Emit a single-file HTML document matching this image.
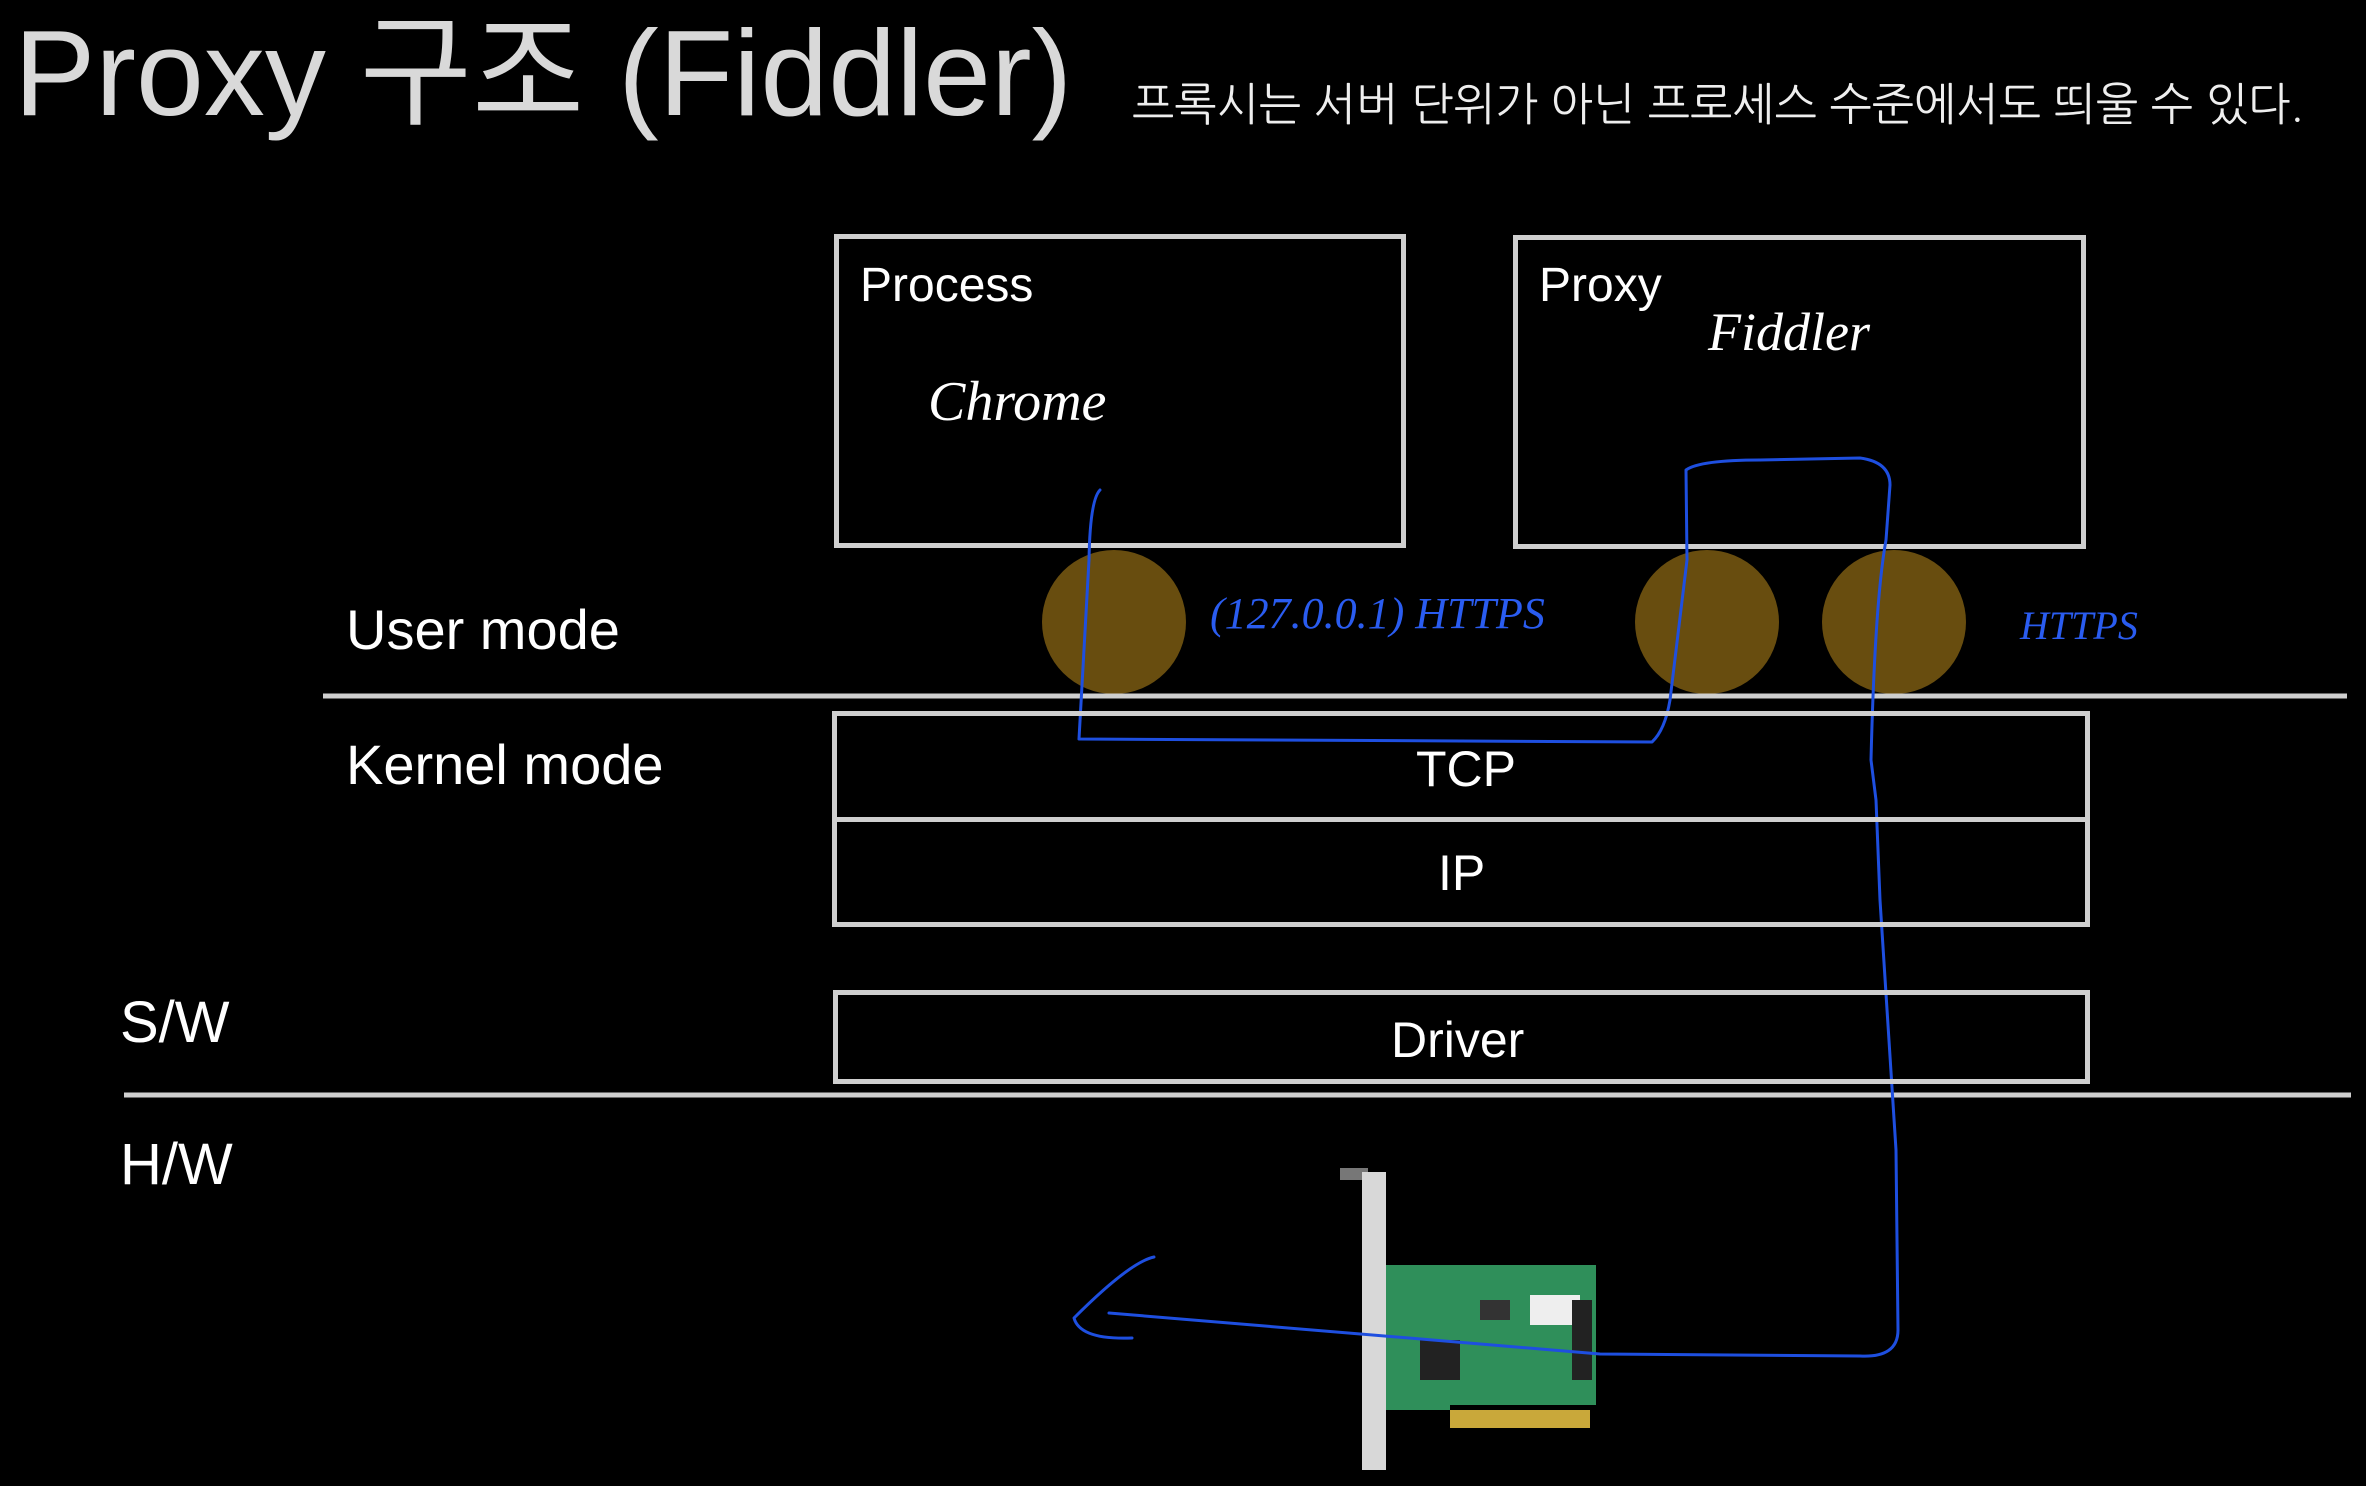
<!DOCTYPE html>
<html><head><meta charset="utf-8"><style>
html,body{margin:0;padding:0;background:#000;}
#c{position:relative;width:2366px;height:1486px;background:#000;overflow:hidden;font-family:"Liberation Sans","Noto Sans CJK KR",sans-serif;color:#fff;}
.t{position:absolute;white-space:nowrap;line-height:1;}
.box{position:absolute;border:5px solid #cfcfcf;box-sizing:border-box;}
</style></head><body><div id="c">
<div class="t" style="left:14px;top:12px;font-size:122px;color:#d9d9d9;">Proxy 구조 (Fiddler)</div>
<div class="t" style="left:1132px;top:82px;font-size:45px;color:#eee;font-family:'NanumGothic','Noto Sans CJK KR',sans-serif;font-weight:300;">프록시는 서버 단위가 아닌 프로세스 수준에서도 띄울 수 있다.</div>

<div class="box" style="left:834px;top:234px;width:572px;height:314px;"></div>
<div class="box" style="left:1513px;top:235px;width:573px;height:314px;"></div>
<div class="t" style="left:860px;top:262px;font-size:48px;">Process</div>
<div class="t" style="left:928px;top:374px;font-size:56px;font-family:'Liberation Serif',serif;font-style:italic;font-weight:300;">Chrome</div>
<div class="t" style="left:1539px;top:262px;font-size:48px;">Proxy</div>
<div class="t" style="left:1708px;top:305px;font-size:54px;font-family:'Liberation Serif',serif;font-style:italic;">Fiddler</div>

<svg style="position:absolute;left:0;top:0" width="2366" height="1486">
<g fill="#7a5a12" fill-opacity="0.85">
<circle cx="1114" cy="622" r="72"/><circle cx="1707" cy="622" r="72"/><circle cx="1894" cy="622" r="72"/>
</g>
<line x1="323" y1="696" x2="2347" y2="696" stroke="#cfcfcf" stroke-width="5"/>
<line x1="124" y1="1095" x2="2351" y2="1095" stroke="#cfcfcf" stroke-width="5"/>
<g>
<rect x="1340" y="1168" width="28" height="12" fill="#777"/>
<rect x="1362" y="1172" width="24" height="298" fill="#d8d8d8"/>
<rect x="1386" y="1265" width="210" height="140" fill="#2f8f5a"/>
<rect x="1450" y="1410" width="140" height="18" fill="#c9a83a"/>
<rect x="1386" y="1390" width="64" height="20" fill="#2f8f5a"/>
<rect x="1420" y="1340" width="40" height="40" fill="#222"/>
<rect x="1530" y="1295" width="50" height="30" fill="#eee"/>
<rect x="1572" y="1300" width="20" height="80" fill="#222"/>
<rect x="1480" y="1300" width="30" height="20" fill="#333"/>
</g>
<g fill="none" stroke="#1e4fe0" stroke-width="3" stroke-linejoin="round" stroke-linecap="round">
<path d="M1100 490 Q1090 500 1089 560 L1079 739 L1652 742 Q1665 730 1670 700 L1687 560 L1686 470 Q1700 460 1760 460 L1860 458 Q1890 462 1890 485 L1886 540 Q1875 600 1871 760 L1876 800 L1880 900 L1896 1150 L1898 1330 Q1898 1358 1860 1356 L1600 1354 L1109 1313"/>
<path d="M1154 1257 Q1130 1262 1074 1318 Q1080 1340 1132 1338"/>
</g>
</svg>
<div class="t" style="left:1210px;top:592px;font-size:44px;color:#2a5cf0;font-family:'Liberation Serif',serif;font-style:italic;">(127.0.0.1) HTTPS</div>
<div class="t" style="left:2020px;top:606px;font-size:40px;color:#2a5cf0;font-family:'Liberation Serif',serif;font-style:italic;">HTTPS</div>

<div class="t" style="left:346px;top:602px;font-size:56px;">User mode</div>
<div class="t" style="left:346px;top:737px;font-size:56px;">Kernel mode</div>
<div class="t" style="left:120px;top:994px;font-size:58px;">S/W</div>
<div class="t" style="left:120px;top:1136px;font-size:58px;">H/W</div>

<div class="box" style="left:832px;top:711px;width:1258px;height:111px;"></div>
<div class="box" style="left:832px;top:817px;width:1258px;height:110px;"></div>
<div class="box" style="left:833px;top:990px;width:1257px;height:94px;"></div>
<div class="t" style="left:1416px;top:744px;font-size:50px;">TCP</div>
<div class="t" style="left:1438px;top:848px;font-size:50px;">IP</div>
<div class="t" style="left:1391px;top:1015px;font-size:50px;">Driver</div>
</div></body></html>
